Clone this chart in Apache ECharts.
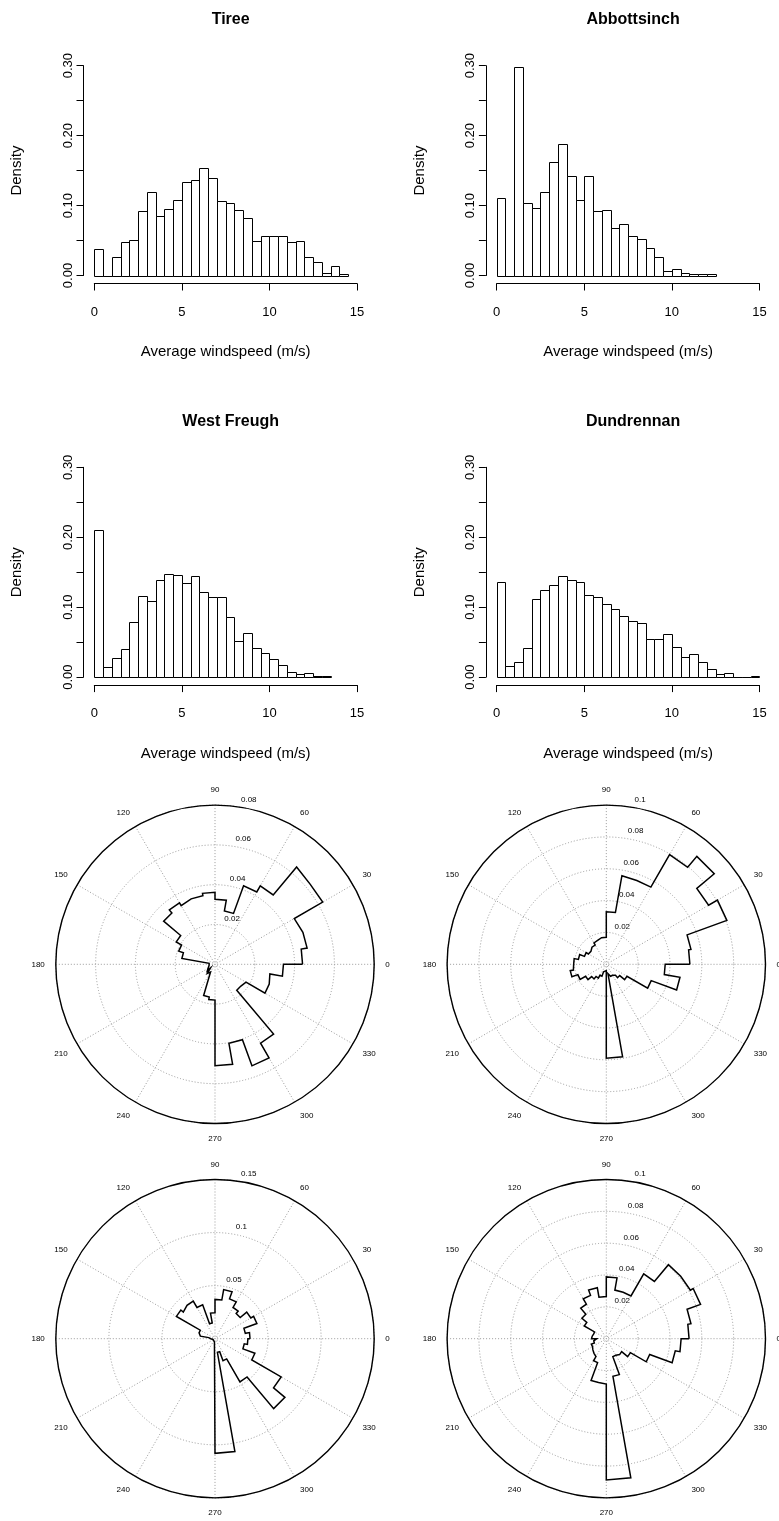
<!DOCTYPE html>
<html>
<head>
<meta charset="utf-8">
<script src="https://cdn.jsdelivr.net/npm/echarts@6/dist/echarts.min.js"></script>
<style>
  html, body { margin: 0; padding: 0; background: #ffffff; }
  #chart { width: 779px; height: 1521px; }
</style>
</head>
<body>
<div id="chart"></div>
<script>
// ---- Wind speed histograms: density per 0.5 m/s bin, first bin starts at 0 ----
const binWidth = 0.5;
const stationNames = ['Tiree', 'Abbottsinch', 'West Freugh', 'Dundrennan'];
const tireeDensity = [0.038, 0, 0.027, 0.048, 0.051, 0.092, 0.120, 0.085, 0.095, 0.108,
  0.134, 0.137, 0.154, 0.140, 0.107, 0.104, 0.094, 0.082, 0.049, 0.057,
  0.057, 0.057, 0.048, 0.049, 0.026, 0.020, 0.004, 0.014, 0.002];
const abbottsinchDensity = [0.111, 0, 0.298, 0.103, 0.097, 0.119, 0.163, 0.188, 0.142, 0.108,
  0.142, 0.092, 0.094, 0.068, 0.074, 0.056, 0.052, 0.040, 0.026, 0.007,
  0.010, 0.004, 0.002, 0.002, 0.002];
const westFreughDensity = [0.210, 0.015, 0.028, 0.040, 0.079, 0.116, 0.109, 0.139, 0.148, 0.146,
  0.134, 0.145, 0.122, 0.114, 0.115, 0.086, 0.052, 0.063, 0.041, 0.035,
  0.026, 0.018, 0.007, 0.004, 0.006, 0.001, 0.001];
const dundrennanDensity = [0.136, 0.016, 0.021, 0.041, 0.112, 0.124, 0.132, 0.145, 0.139, 0.136,
  0.118, 0.115, 0.105, 0.098, 0.087, 0.080, 0.078, 0.054, 0.055, 0.061,
  0.043, 0.029, 0.033, 0.022, 0.011, 0.004, 0.006, 0, 0, 0.0015];
const speedTicks = [0, 5, 10, 15];
const densityTicks = [0, 0.05, 0.10, 0.15, 0.20, 0.25, 0.30];
const densityLabelled = ['0.00', '0.10', '0.20', '0.30'];

// ---- Wind direction roses: density per 10 degree sector, first sector starts at 0 ----
const sectorWidth = 10;
const roseA = [0.044, 0.047, 0.046, 0.0625, 0.0638, 0.0455, 0.042, 0.0272, 0.0327, 0.0362,
  0.035, 0.034, 0.0357, 0.0337, 0.0225, 0.0194, 0.0169, 0.003, 0.003, 0.002,
  0.004, 0.005, 0.003, 0.006, 0.0045, 0.0167, 0.018, 0.051, 0.0403, 0.0543,
  0.0458, 0.017, 0.018, 0.029, 0.028, 0.0344];
const roseB = [0.0525, 0.054, 0.0806, 0.0742, 0.0885, 0.0795, 0.056, 0.0565, 0.033, 0.017,
  0.016, 0.0155, 0.014, 0.0126, 0.013, 0.0146, 0.0178, 0.0205, 0.021, 0.023,
  0.019, 0.015, 0.012, 0.010, 0.008, 0.005, 0.004, 0.059, 0.006, 0.008,
  0.009, 0.011, 0.015, 0.030, 0.047, 0.037];
const roseC = [0.033, 0.029, 0.042, 0.039, 0.031, 0.034, 0.040, 0.047, 0.037, 0.0245,
  0.015, 0.034, 0.041, 0.039, 0.042, 0.016, 0.014, 0.006, 0.004, 0.003,
  0.002, 0.002, 0.002, 0.002, 0.002, 0.002, 0.003, 0.108, 0.013, 0.022,
  0.047, 0.086, 0.072, 0.040, 0.028, 0.031];
const roseD = [0.052, 0.054, 0.063, 0.061, 0.0607, 0.047, 0.031, 0.031, 0.0388, 0.0265,
  0.0325, 0.029, 0.025, 0.020, 0.016, 0.0085, 0.009, 0.0093, 0.006, 0.008,
  0.010, 0.011, 0.012, 0.013, 0.016, 0.028, 0.0285, 0.0887, 0.024, 0.012,
  0.013, 0.0126, 0.0175, 0.029, 0.044, 0.047];
const roseRingsA = [0.02, 0.04, 0.06, 0.08];
const roseRingsB = [0.02, 0.04, 0.06, 0.08, 0.1];
const roseRingsC = [0.05, 0.1, 0.15];
const roseRingsD = [0.02, 0.04, 0.06, 0.08, 0.1];
const directionTicks = [0, 30, 60, 90, 120, 150, 180, 210, 240, 270, 300, 330];

// ---- Layout ----
const FONT = '"Liberation Sans", Arial, Helvetica, sans-serif';
const histDensities = [tireeDensity, abbottsinchDensity, westFreughDensity, dundrennanDensity];
const histBoxes = [
  { left: 94.3, top: 65.7 },
  { left: 496.7, top: 65.7 },
  { left: 94.3, top: 467.3 },
  { left: 496.7, top: 467.3 }
];
const histW = 262.7, histH = 209.8;

const roses = [roseA, roseB, roseC, roseD];
const roseRings = [roseRingsA, roseRingsB, roseRingsC, roseRingsD];
const roseCenters = [[215, 964.3], [606.3, 964.3], [215, 1338.7], [606.3, 1338.7]];
const roseRadius = 159.2;

const crisp = v => Math.round(v) + 0.5;

function histRender(params, api) {
  const a = api.coord([api.value(0), 0]);
  const b = api.coord([api.value(1), api.value(2)]);
  const x0 = crisp(a[0]), x1 = crisp(b[0]);
  const y0 = crisp(a[1]), y1 = crisp(b[1]);
  return {
    type: 'rect',
    shape: { x: x0, y: y1, width: x1 - x0, height: y0 - y1 },
    style: { fill: '#ffffff', stroke: '#000000', lineWidth: 1 }
  };
}

// closed step outline: each sector contributes its two edge points
function roseOutline(values) {
  const pts = [];
  values.forEach((v, i) => {
    pts.push([v, i * sectorWidth]);
    pts.push([v, (i + 1) * sectorWidth]);
  });
  pts.push(pts[0]);
  return pts;
}

const grid = [], xAxis = [], yAxis = [], series = [], title = [];
histBoxes.forEach((b, i) => {
  grid.push({ left: b.left, top: b.top, width: histW, height: histH, containLabel: false });
  xAxis.push({
    gridIndex: i, type: 'value',
    min: speedTicks[0], max: speedTicks[speedTicks.length - 1], interval: speedTicks[1] - speedTicks[0],
    offset: 8,
    axisLine: { show: true, onZero: false, lineStyle: { color: '#000', width: 1 } },
    axisTick: { show: true, length: 7, lineStyle: { color: '#000', width: 1 } },
    axisLabel: { color: '#000', fontSize: 13, fontFamily: FONT, margin: 22 },
    splitLine: { show: false },
    name: 'Average windspeed (m/s)', nameLocation: 'middle', nameGap: 61,
    nameTextStyle: { color: '#000', fontSize: 15, fontFamily: FONT }
  });
  yAxis.push({
    gridIndex: i, type: 'value',
    min: densityTicks[0], max: densityTicks[densityTicks.length - 1], interval: densityTicks[1] - densityTicks[0],
    offset: 10.8,
    axisLine: { show: true, onZero: false, lineStyle: { color: '#000', width: 1 } },
    axisTick: { show: true, length: 7, lineStyle: { color: '#000', width: 1 } },
    axisLabel: {
      color: '#000', fontSize: 13, fontFamily: FONT, rotate: 90, margin: 9,
      formatter: v => { const s = v.toFixed(2); return densityLabelled.includes(s) ? s : ''; }
    },
    splitLine: { show: false },
    name: 'Density', nameLocation: 'middle', nameGap: 59,
    nameTextStyle: { color: '#000', fontSize: 15, fontFamily: FONT }
  });
  series.push({
    type: 'custom', xAxisIndex: i, yAxisIndex: i,
    renderItem: histRender, clip: false, silent: true,
    data: histDensities[i].map((d, k) => [k * binWidth, (k + 1) * binWidth, d])
  });
  title.push({
    text: stationNames[i], left: b.left + histW / 2, top: b.top - 59, textAlign: 'center',
    textStyle: { color: '#000', fontSize: 16, fontWeight: 'bold', fontFamily: FONT }
  });
});

const polar = [], angleAxis = [], radiusAxis = [], graphic = [];
const gridLine = { color: '#9a9a9a', width: 1, type: [1, 2] };
roses.forEach((vals, i) => {
  const rings = roseRings[i];
  const rMax = rings[rings.length - 1];
  polar.push({ center: roseCenters[i], radius: roseRadius });
  angleAxis.push({
    polarIndex: i, type: 'value', min: 0, max: 360, interval: directionTicks[1] - directionTicks[0],
    startAngle: 0, clockwise: false,
    axisLine: { show: true, lineStyle: { color: '#000', width: 1.4 } },
    axisTick: { show: false },
    axisLabel: {
      color: '#000', fontSize: 8, fontFamily: FONT, margin: 11,
      formatter: v => (directionTicks.includes(v) ? String(v) : '')
    },
    splitLine: { show: true, lineStyle: gridLine }
  });
  radiusAxis.push({
    polarIndex: i, type: 'value', min: 0, max: rMax, interval: rings[0],
    axisLine: { show: false }, axisTick: { show: false }, axisLabel: { show: false },
    splitLine: { show: true, lineStyle: gridLine }
  });
  series.push({
    type: 'line', coordinateSystem: 'polar', polarIndex: i,
    data: roseOutline(vals), showSymbol: false, symbol: 'none', clip: false, silent: true,
    lineStyle: { color: '#000', width: 1.5, join: 'miter' }
  });
  // ring value labels sit just beside the rings, slightly right of the 90 degree spoke
  rings.forEach(r => {
    const rPx = r / rMax * roseRadius;
    graphic.push({
      type: 'text', silent: true,
      x: roseCenters[i][0] + 11.5 + rPx * 0.14,
      y: roseCenters[i][1] - 5.8 - rPx,
      style: {
        text: String(r), fill: '#000', fontSize: 8, fontFamily: FONT,
        align: 'center', verticalAlign: 'middle'
      }
    });
  });
});

const chart = echarts.init(document.getElementById('chart'), null, { renderer: 'canvas' });
chart.setOption({
  backgroundColor: '#ffffff',
  animation: false,
  textStyle: { fontFamily: FONT },
  title, grid, xAxis, yAxis, polar, angleAxis, radiusAxis, series, graphic
});
</script>
</body>
</html>
